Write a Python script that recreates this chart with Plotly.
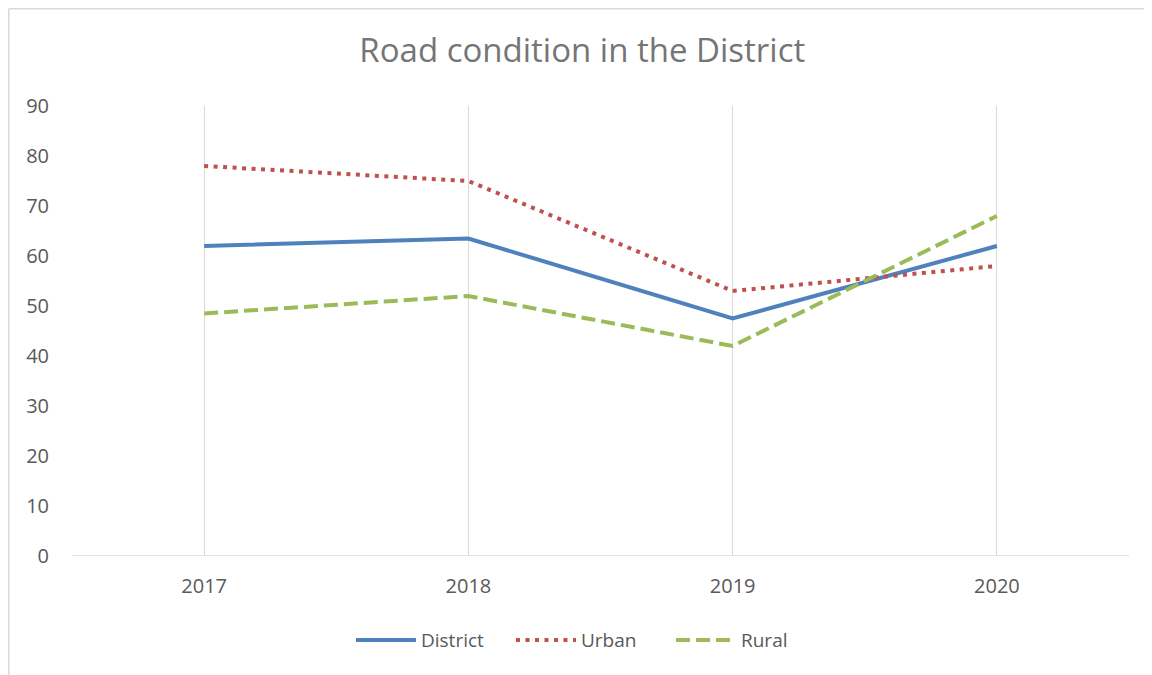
import plotly.graph_objects as go

years = ["2017", "2018", "2019", "2020"]
district = [62, 63.5, 47.5, 62]
urban = [78, 75, 53, 58]
rural = [48.5, 52, 42, 68]
y_ticks = [0, 10, 20, 30, 40, 50, 60, 70, 80, 90]

FONT = "Open Sans"
fig = go.Figure()
fig.add_trace(go.Scatter(x=years, y=district, name="District", mode="lines",
                         line=dict(color="#4F81BD", width=4)))
fig.add_trace(go.Scatter(x=years, y=urban, name="Urban", mode="lines",
                         line=dict(color="#C0504D", width=4, dash="4px,5.5px")))
fig.add_trace(go.Scatter(x=years, y=rural, name="Rural", mode="lines",
                         line=dict(color="#9BBB59", width=4, dash="14px,6px")))

fig.update_layout(
    width=1144, height=667,
    margin=dict(l=64, r=23, t=98, b=119),
    paper_bgcolor="white", plot_bgcolor="white",
    title=dict(text="Road condition in the District", x=0.502, xanchor="center",
               y=1 - 42 / 667, yanchor="middle",
               font=dict(family=FONT, size=33, color="#757575")),
    font=dict(family=FONT, size=20, color="#595959"),
    showlegend=True,
    legend=dict(orientation="h", x=0.491, xanchor="center", y=-0.187, yanchor="middle",
                font=dict(family=FONT, size=19, color="#595959"), itemwidth=60,
                entrywidth=85, entrywidthmode="pixels"),
    xaxis=dict(type="category", range=[-0.5, 3.5], showgrid=True, gridcolor="#d9d9d9",
               gridwidth=1, showline=False, zeroline=False, ticks="",
               ticklabelstandoff=16,
               tickfont=dict(size=20, color="#595959")),
    yaxis=dict(range=[0, 90], tickvals=y_ticks, showgrid=False, zeroline=False,
               showline=False, ticks="", ticklabelstandoff=22,
               tickfont=dict(size=20, color="#595959")),
    shapes=[
        dict(type="line", xref="paper", yref="y", x0=0, x1=1, y0=0, y1=0,
             line=dict(color="#d9d9d9", width=1.5)),
        dict(type="line", xref="paper", yref="paper", x0=(0.75 - 64) / 1057,
             x1=(0.75 - 64) / 1057, y0=-(119 + 10) / 450, y1=1 + (98 - 0.75) / 450,
             line=dict(color="#d9d9d9", width=1.5), layer="below"),
        dict(type="line", xref="paper", yref="paper", x0=(0.75 - 64) / 1057,
             x1=(1144 + 10 - 64) / 1057, y0=1 + (98 - 0.75) / 450, y1=1 + (98 - 0.75) / 450,
             line=dict(color="#d9d9d9", width=1.5), layer="below"),
    ],
)
fig.write_html("out.html")
